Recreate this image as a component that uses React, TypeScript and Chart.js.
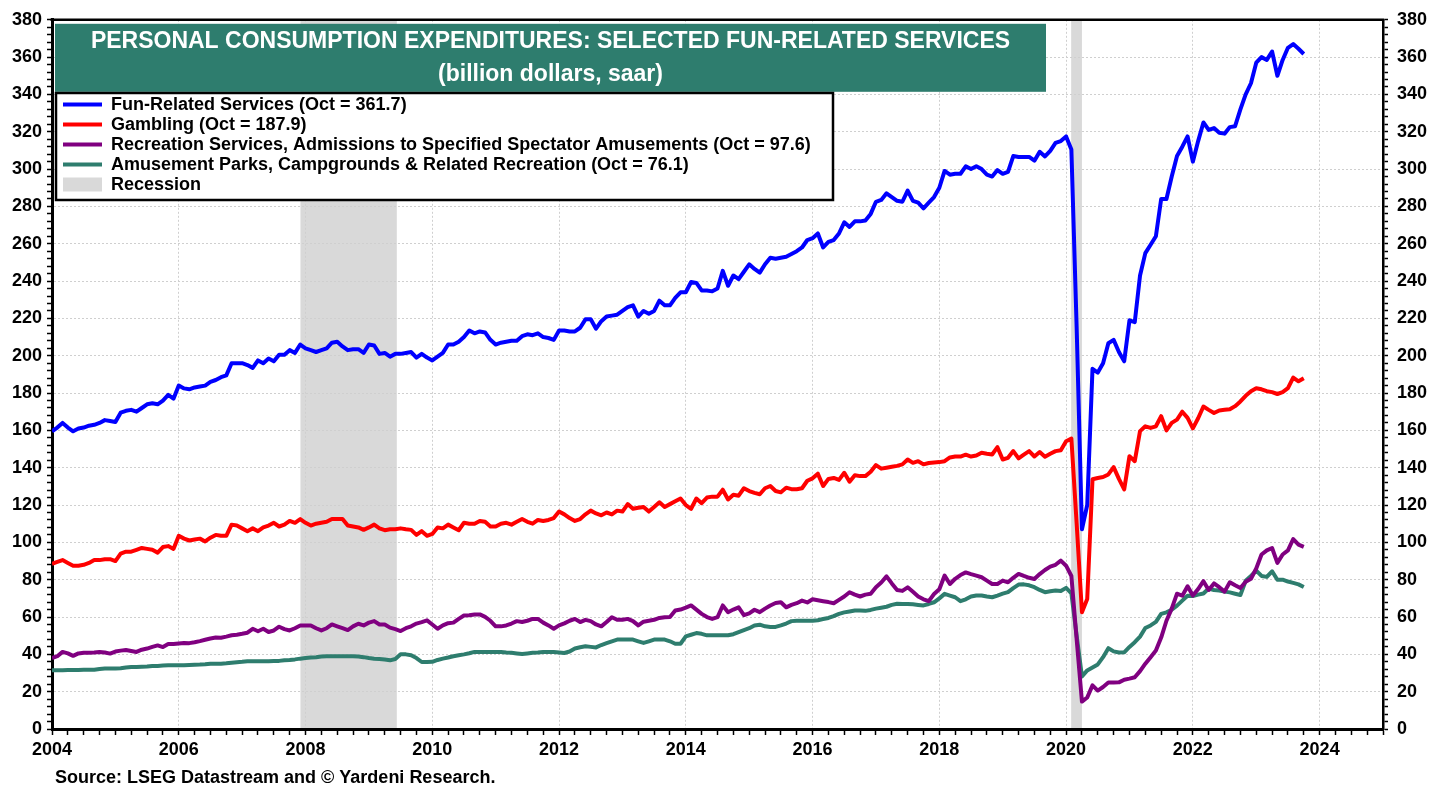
import React, { useEffect, useRef } from "react";
import { Chart, registerables } from "chart.js";

Chart.register(...registerables);

// ---------- DATA (monthly, Jan 2004 .. Oct 2023, billion dollars, saar) ----------
const START_YEAR = 2004;

const funRelated = [
  159.5, 161.5, 164, 161.5, 159.5, 161, 161.5, 162.5, 163, 164, 165.5, 165,
  164.5, 169.5, 170.5, 171, 170, 172, 174, 174.5, 174, 176, 179, 177,
  184, 182.5, 182, 183, 183.5, 184, 186, 187, 188.5, 189.5, 196, 196,
  196, 195, 193.5, 197.5, 196, 198.5, 197, 200.5, 200.5, 203, 201.5, 206,
  204, 203, 202, 203, 204, 207, 207.5, 205, 203, 203.5, 203.5, 201.5,
  206, 205.5, 201, 201.5, 199.5, 201, 201, 201.5, 202, 199, 201, 199,
  197.5, 199.5, 201.5, 206, 206, 207.5, 210, 213.5, 212, 213, 212.5, 208.5,
  206, 207, 207.5, 208, 208, 210.5, 211.5, 211, 212, 210, 209.5, 208.5,
  213.5, 213.5, 213, 213, 215, 219.5, 219.5, 214.5, 218.5, 221, 221.5, 222,
  224, 226, 227, 221, 224, 222.5, 224, 229.5, 227, 227, 231, 234,
  234, 239.5, 239, 235, 235, 234.5, 236, 245.5, 237.5, 243, 241, 245,
  249, 246.5, 244.5, 249, 252.5, 252, 252.5, 253, 254.5, 256, 258, 262,
  263, 265.5, 258, 261, 262, 265.5, 271.5, 269, 272, 272, 272.5, 276,
  282.5, 283.5, 287, 285, 283, 282.5, 288.5, 283, 282, 279, 282, 285,
  290, 299, 297, 297.5, 297.5, 301.5, 300, 301.5, 300, 297, 296, 299.5,
  297.5, 298.5, 307, 306.5, 306.5, 306.5, 304.5, 309.3, 306.8, 309.8, 314, 315,
  317.5, 310.5, 215, 107, 120, 193, 191, 196, 206.7, 208.5, 202, 197,
  219, 218, 243, 255, 259.5, 264, 284, 284, 296, 307, 312, 317.5,
  304, 315, 325, 321, 322, 319.5, 319, 322.5, 323, 332, 340, 346,
  357, 360, 358.5, 363, 350, 358.5, 365, 367, 364.5, 361.7,
];

const gambling = [
  88.5, 89.5, 90.5, 89, 87.5, 87.5, 88, 89, 90.5, 90.5, 91, 91,
  90, 94, 95, 95, 96, 97, 96.5, 96, 94.5, 97.5, 98, 96.5,
  103.5, 102, 101, 101.5, 102, 100.5, 102.5, 104, 103.5, 103.5, 109.5, 109,
  107.5, 106, 107.5, 106, 108, 109, 110.5, 108.5, 109.5, 111.5, 110.5, 112.5,
  110.5, 109, 110, 110.5, 111, 112.5, 112.5, 112.5, 109, 108.5, 108, 106.7,
  108, 109.5, 107.5, 106.5, 107, 107, 107.5, 107, 106.7, 104, 106, 103.5,
  104.5, 108, 107.5, 109.5, 108, 106.5, 110.5, 110, 110, 111.5, 111, 108.5,
  108.5, 110, 110.5, 109.5, 111, 112.5, 111, 110, 112, 111.5, 112, 113,
  116.5, 115, 113, 111.5, 112.5, 115, 117, 115.5, 114.5, 116, 115, 117,
  116.5, 120.5, 118, 118.5, 119, 116.5, 119, 121.5, 119, 120.5, 122, 123.5,
  120, 118, 123.5, 121, 124, 124.5, 124.5, 128.2, 123, 125.5, 125, 129,
  127.5, 126.5, 125.8, 129, 130.2, 127.5, 126.8, 129.3, 128.5, 128.5, 129, 133,
  134.3, 136.8, 130.2, 134, 134.5, 133.5, 137.3, 132.5, 136, 135.5, 135.5, 137.8,
  141.4, 139.5, 140, 140.5, 141, 141.8, 144.4, 142.6, 143.5, 141.8, 142.5, 142.8,
  143, 143.5, 145.5, 146, 146, 147, 146, 146.5, 148, 147.5, 147.1, 151,
  144.4, 145.3, 148.9, 145, 147, 148.9, 146, 148.4, 145.9, 147.5, 148.9, 149.4,
  154.2, 155.6, 110, 62.6, 69.7, 133.8, 134.5, 135, 136.4, 140.3, 134, 128.4,
  146.2, 143.5, 159.6, 162.2, 161.3, 162.2, 167.6, 160, 164, 165.8, 170, 166.7,
  161.1, 166.5, 172.8, 171, 169.3, 170.7, 171, 171.3, 173, 175.5, 178.5, 181,
  182.6, 182, 181, 180.5, 179.5, 180.5, 182.6, 188.3, 186.3, 187.9,
];

const recreationServices = [
  38, 39, 41.3, 40.5, 39.2, 40.5, 40.8, 40.8, 41, 41.3, 41, 40.4,
  41.5, 42, 42.3, 41.8, 41.3, 42.5, 43.1, 44, 44.8, 43.9, 45.5, 45.5,
  45.8, 46.1, 46, 46.5, 47.1, 47.8, 48.5, 49, 48.9, 49.5, 50.2, 50.5,
  51, 51.6, 53.7, 52.4, 53.7, 52, 52.8, 54.8, 53.5, 52.8, 54, 55.5,
  55.5, 55.5, 54, 52.8, 54, 56, 55, 54, 53, 55, 56.4, 55.5,
  57, 57.8, 56, 56, 54.3, 53.5, 52.5, 54, 55, 56.5, 57.3, 58.2,
  56, 53.7, 55.5, 56.7, 57, 59, 60.8, 61, 61.4, 61.4, 60.1, 58,
  55, 55, 55.5, 56.5, 57.8, 57.3, 58, 59, 59, 57, 55.5, 53.7,
  55.5, 56.6, 58, 59, 57.3, 58.5, 57.8, 56, 55, 57.3, 59.9, 58.5,
  58.5, 59, 57.8, 55.5, 57.5, 58, 58.5, 59.5, 59.9, 60, 63.5, 64,
  65, 66.2, 64, 61.7, 60, 59, 59.9, 66.2, 62.6, 64, 65.2, 61,
  62, 63.9, 62.6, 64.5, 66.2, 67.5, 67.9, 65.2, 66.5, 67.4, 68.8, 67.8,
  69.5, 69, 68.5, 68, 67.4, 69.2, 71, 73.3, 72, 71, 72, 72.5,
  76, 78.5, 81.8, 78, 74.5, 74, 75.9, 73.5, 71, 69.5, 68.5, 72.3,
  74.9, 82.2, 77.7, 80.5, 82.5, 83.9, 83, 82.2, 81.3, 79.5, 77.7, 77.7,
  79.5, 78.6, 81, 83.1, 82, 81, 80.4, 83, 85.2, 87, 88, 90.2,
  87.5, 82, 48, 14.7, 16.9, 23.4, 20.6, 22.5, 24.9, 24.9, 25, 26.4,
  27, 27.7, 31, 35, 38.5, 42, 49, 58, 64.5, 72.5, 71.4, 76.5,
  71.5, 75, 79.2, 74.5, 78, 76, 73.6, 78.6, 77, 75.5, 78.9, 80.5,
  86, 93.5, 95.7, 97, 89, 93.5, 95.7, 101.8, 98.8, 97.6,
];

const amusementParks = [
  31.5, 31.5, 31.5, 31.6, 31.6, 31.6, 31.7, 31.7, 31.8, 32.2, 32.4, 32.4,
  32.4, 32.6, 33, 33.2, 33.2, 33.4, 33.5, 33.8, 33.8, 34, 34.2, 34.2,
  34.2, 34.2, 34.3, 34.4, 34.5, 34.7, 35, 35, 35, 35.2, 35.5, 35.8,
  36, 36.3, 36.3, 36.3, 36.3, 36.3, 36.4, 36.5, 36.8, 37, 37.3, 37.7,
  38, 38.3, 38.5, 38.8, 39, 39, 39, 39, 39, 39, 38.8, 38.5,
  38, 37.7, 37.5, 37.2, 36.8, 37.5, 40, 40, 39.5, 38, 35.9, 35.9,
  36, 37, 37.7, 38.3, 39, 39.5, 40, 40.6, 41.3, 41.3, 41.3, 41.3,
  41.3, 41.3, 41, 40.8, 40.5, 40.2, 40.5, 40.8, 41, 41.3, 41.3, 41.2,
  41, 40.7, 41.5, 43.1, 43.8, 44.3, 44, 43.7, 45, 46, 47, 47.9,
  47.9, 48, 47.9, 47, 46.1, 47, 47.9, 48, 47.9, 47, 45.7, 45.7,
  49.6, 50.5, 51.4, 51, 50.2, 50.2, 50.2, 50.2, 50.2, 50.8, 51.9, 53,
  54, 55.5, 55.9, 55, 54.7, 54.7, 55.5, 56.5, 57.8, 58, 58, 58,
  58, 58.3, 58.9, 59.5, 60.5, 61.7, 62.5, 63, 63.5, 63.5, 63.3, 63.8,
  64.5, 65, 65.5, 66.5, 67.1, 67, 67, 66.8, 66.5, 66.2, 67, 67.9,
  70, 72.4, 71.5, 70.6, 68.5, 69.5, 71, 71.5, 71.5, 71, 70.6, 71.5,
  72.5, 73.3, 75.5, 77.4, 77.5, 77, 76, 74.5, 73.3, 73.8, 74.2, 73.9,
  75.6, 72.7, 50, 28.1, 31.4, 33, 34.6, 38.5, 43.3, 41.6, 41, 41.1,
  44, 46.5, 49.5, 54.1, 55.5, 57.4, 61.7, 62.5, 63.9, 66.1, 68.8, 71.4,
  71.2, 72, 72.6, 75.3, 74.5, 74.2, 73.6, 73.2, 72.5, 71.8, 79.4, 82,
  84.9, 82, 81.5, 84.5, 80, 80, 79, 78.3, 77.5, 76.1,
];

const seriesLabels = [
  "Fun-Related Services (Oct = 361.7)",
  "Gambling (Oct = 187.9)",
  "Recreation Services, Admissions to Specified Spectator Amusements (Oct = 97.6)",
  "Amusement Parks, Campgrounds & Related Recreation (Oct = 76.1)",
];
const recessionLabel = "Recession";

const recessionStarts = [2007.92, 2020.08];
const recessionEnds = [2009.44, 2020.25];

const xMin = 2004;
const xMax = 2025;
const yMin = 0;
const yMax = 380;

const titleLines = [
  "PERSONAL CONSUMPTION EXPENDITURES: SELECTED FUN-RELATED SERVICES",
  "(billion dollars, saar)",
];
const sourceText = "Source: LSEG Datastream and \u00A9 Yardeni Research.";

// ---------- STYLE ----------
const FONT = "'Liberation Sans', Arial, Helvetica, sans-serif";
const TEAL = "#2e7d6e";
const COLORS = ["#0000ff", "#ff0000", "#800080", TEAL];
const RECESSION_COLOR = "#d9d9d9";

const toPoints = (arr: number[]) =>
  arr.map((v, i) => ({ x: START_YEAR + i / 12, y: v }));

const isEvenYear = (v: number) => {
  const r = Math.round(v);
  return Math.abs(v - r) < 1e-6 && r % 2 === 0;
};

const overlayPlugin = {
  id: "overlay",
  beforeDraw(chart: any) {
    const { ctx, chartArea, scales } = chart;
    ctx.save();
    ctx.fillStyle = "#ffffff";
    ctx.fillRect(0, 0, chart.width, chart.height);
    ctx.fillStyle = RECESSION_COLOR;
    recessionStarts.forEach((s, i) => {
      const x0 = scales.x.getPixelForValue(s);
      const x1 = scales.x.getPixelForValue(recessionEnds[i]);
      ctx.fillRect(x0, chartArea.top, x1 - x0, chartArea.bottom - chartArea.top);
    });
    ctx.restore();
  },
  afterDraw(chart: any) {
    const { ctx, chartArea } = chart;
    ctx.save();
    // top frame line
    ctx.strokeStyle = "#000";
    ctx.lineWidth = 2.5;
    ctx.beginPath();
    ctx.moveTo(chartArea.left - 1.5, chartArea.top);
    ctx.lineTo(chartArea.right + 1.25, chartArea.top);
    ctx.stroke();

    // title box
    const tbX = chartArea.left + 3;
    const tbY = chartArea.top + 4;
    const tbW = 991;
    const tbH = 68;
    ctx.fillStyle = TEAL;
    ctx.fillRect(tbX, tbY, tbW, tbH);
    ctx.fillStyle = "#ffffff";
    ctx.textAlign = "center";
    ctx.textBaseline = "middle";
    ctx.font = `bold 23px ${FONT}`;
    ctx.fillText(titleLines[0], tbX + tbW / 2, tbY + 18);
    ctx.fillText(titleLines[1], tbX + tbW / 2, tbY + 51);

    // legend box
    const lbX = chartArea.left + 4;
    const lbY = 93;
    const lbW = 777;
    const lbH = 107;
    ctx.fillStyle = "#ffffff";
    ctx.fillRect(lbX, lbY, lbW, lbH);
    ctx.strokeStyle = "#000";
    ctx.lineWidth = 2.5;
    ctx.strokeRect(lbX, lbY, lbW, lbH);

    ctx.font = `bold 18px ${FONT}`;
    ctx.textAlign = "left";
    ctx.textBaseline = "middle";
    const rowY0 = lbY + 11.5;
    const rowH = 20;
    chart.data.datasets.forEach((ds: any, i: number) => {
      const y = rowY0 + i * rowH;
      ctx.strokeStyle = ds.borderColor;
      ctx.lineWidth = 4;
      ctx.beginPath();
      ctx.moveTo(lbX + 7, y);
      ctx.lineTo(lbX + 46, y);
      ctx.stroke();
      ctx.fillStyle = "#000";
      ctx.fillText(ds.label, lbX + 55, y + 1);
    });
    const ry = rowY0 + 4 * rowH;
    ctx.fillStyle = RECESSION_COLOR;
    ctx.fillRect(lbX + 7, ry - 7, 39, 14);
    ctx.fillStyle = "#000";
    ctx.fillText(recessionLabel, lbX + 55, ry + 1);

    // source
    ctx.font = `bold 18px ${FONT}`;
    ctx.textAlign = "left";
    ctx.fillText(sourceText, 55, 778);
    ctx.restore();
  },
};

const tickFont = { family: FONT, size: 18, weight: "bold" as const };

export default function App() {
  const canvasRef = useRef<HTMLCanvasElement | null>(null);

  useEffect(() => {
    if (!canvasRef.current) return;
    const datasets = [funRelated, gambling, recreationServices, amusementParks].map(
      (arr, i) => ({
        label: seriesLabels[i],
        data: toPoints(arr),
        borderColor: COLORS[i],
        backgroundColor: COLORS[i],
        borderWidth: 4,
        pointRadius: 0,
        tension: 0,
        fill: false,
        borderJoinStyle: "round" as const,
      })
    );

    const yTicksBuilder = (scale: any) => {
      const t = [];
      for (let v = yMin; v <= yMax; v += 4) t.push({ value: v });
      scale.ticks = t;
    };
    const yLabel = (v: any) => (Number(v) % 20 === 0 ? String(v) : "");

    const chart = new Chart(canvasRef.current, {
      type: "line",
      data: { datasets },
      options: {
        responsive: false,
        animation: false,
        events: [],
        layout: { padding: { top: 17, left: 0, right: 0, bottom: 0 } },
        plugins: {
          legend: { display: false },
          tooltip: { enabled: false },
          title: { display: false },
        },
        scales: {
          x: {
            type: "linear",
            min: xMin,
            max: xMax,
            afterFit: (s: any) => {
              s.height = 61;
            },
            afterBuildTicks: (s: any) => {
              const t = [];
              for (let q = 0; q <= (xMax - xMin) * 4; q++) t.push({ value: xMin + q / 4 });
              s.ticks = t;
            },
            ticks: {
              autoSkip: false,
              maxRotation: 0,
              minRotation: 0,
              padding: 4,
              color: "#000",
              font: tickFont,
              callback: (v: any) => (isEvenYear(Number(v)) ? String(Math.round(Number(v))) : ""),
            },
            grid: {
              color: (c: any) => {
                const v = c.tick ? c.tick.value : NaN;
                return isEvenYear(v) && v > xMin && v < xMax ? "#cfcfcf" : "rgba(0,0,0,0)";
              },
              lineWidth: 1,
              tickColor: "#000",
              tickLength: 6,
              tickWidth: 1.5,
            },
            border: { display: true, color: "#000", width: 3, dash: [2, 2] },
          },
          y: {
            type: "linear",
            position: "left",
            min: yMin,
            max: yMax,
            afterFit: (s: any) => {
              s.width = 52;
            },
            afterBuildTicks: yTicksBuilder,
            ticks: {
              autoSkip: false,
              padding: 5,
              color: "#000",
              font: tickFont,
              callback: yLabel,
            },
            grid: {
              color: (c: any) => {
                const v = c.tick ? c.tick.value : NaN;
                return v % 20 === 0 && v > yMin && v < yMax ? "#cfcfcf" : "rgba(0,0,0,0)";
              },
              lineWidth: 1,
              tickColor: "#000",
              tickLength: 5,
              tickWidth: 1.5,
            },
            border: { display: true, color: "#000", width: 3, dash: [2, 2] },
          },
          y2: {
            type: "linear",
            position: "right",
            min: yMin,
            max: yMax,
            afterFit: (s: any) => {
              s.width = 59;
            },
            afterBuildTicks: yTicksBuilder,
            ticks: {
              autoSkip: false,
              padding: 9,
              color: "#000",
              font: tickFont,
              callback: yLabel,
            },
            grid: {
              drawOnChartArea: false,
              tickColor: "#000",
              tickLength: 5,
              tickWidth: 1.5,
            },
            border: { display: true, color: "#000", width: 2.5 },
          },
        },
      },
      plugins: [overlayPlugin],
    } as any);

    return () => chart.destroy();
  }, []);

  return (
    <div
      style={{
        position: "fixed",
        left: 0,
        top: 0,
        width: 1442,
        height: 790,
        background: "#fff",
      }}
    >
      <canvas
        ref={canvasRef}
        width={1442}
        height={790}
        style={{ display: "block", width: 1442, height: 790 }}
      />
    </div>
  );
}
